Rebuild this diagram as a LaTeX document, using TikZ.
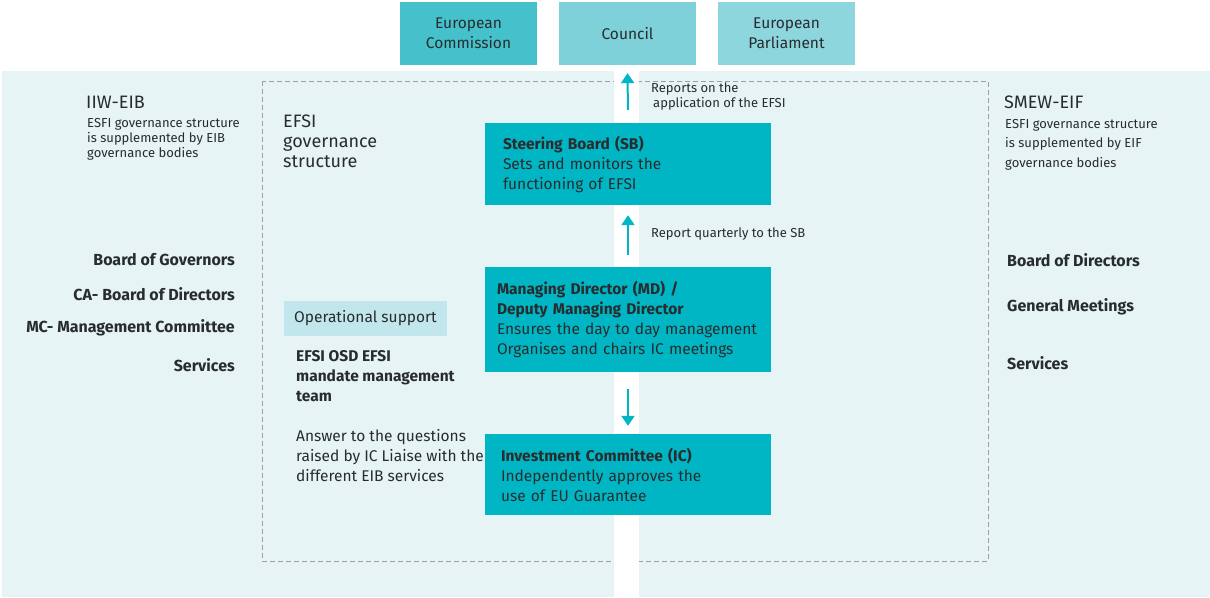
\documentclass[tikz,border=0pt]{standalone}
\usepackage{fontspec}
\setmainfont{Fira Sans}
\usetikzlibrary{arrows.meta}
\definecolor{efsiteal}{RGB}{0,182,196}
\definecolor{commission}{RGB}{69,193,204}
\definecolor{council}{RGB}{126,208,217}
\definecolor{parliament}{RGB}{141,214,222}
\definecolor{opsupport}{RGB}{193,230,235}
\definecolor{panelbg}{RGB}{230,244,246}
\definecolor{inktext}{RGB}{40,44,46}
\newcommand\bodysize{\fontsize{15.5}{20}\selectfont}
\newcommand\listsize{\fontsize{16}{20}\selectfont\bfseries}
\newcommand\notesize{\fontsize{13}{15}\selectfont}
\newcommand\headsize{\fontsize{18}{20}\selectfont}

\begin{document}
\begin{tikzpicture}[x=1pt, y=-1pt, text=inktext,
    topbox/.style={minimum width=137pt, minimum height=63pt, align=center, inner sep=0pt, font=\bodysize},
    box/.style={fill=efsiteal, align=left, inner ysep=0pt, font=\bodysize},
    plain/.style={inner sep=0pt, align=left, font=\bodysize},
    note/.style={inner sep=0pt, align=left, font=\notesize},
    head/.style={inner sep=0pt, align=left, font=\headsize},
    listitem/.style={inner sep=0pt, font=\listsize},
    flow/.style={draw=efsiteal, line width=2pt, -{Triangle[width=13pt,length=10pt]}}]
    \useasboundingbox (0,0) rectangle (1210,597);

    % Panels
    \fill[panelbg] (2,71) rectangle (614,597);
    \fill[panelbg] (639,71) rectangle (1210,597);
    \draw[black!38, dash pattern=on 5pt off 3pt] (262,81) rectangle (988,561);
    \fill[white] (614,71) rectangle (639,597);

    % Boxes
    \node[topbox, fill=commission] (ec) at (468.5,33.5) {European\\Commission};
    \node[topbox, fill=council] (council) at (627.5,33.5) {Council};
    \node[topbox, fill=parliament] (ep) at (786.5,33.5) {European\\Parliament};

    \node[box, minimum height=82pt, inner xsep=18pt, text width=250pt] (sb) at (628,164)
        {\textbf{Steering Board (SB)}\\Sets and monitors the\\functioning of EFSI};
    \node[box, minimum height=105pt, inner xsep=12pt, text width=262pt] (md) at (628,319.5)
        {\textbf{Managing Director (MD) /}\\\textbf{Deputy Managing Director}\\Ensures the day to day management\\Organises and chairs IC meetings};
    \node[box, minimum height=81pt, inner xsep=16pt, text width=254pt] (ic) at (628,474.5)
        {\textbf{Investment Committee (IC)}\\Independently approves the\\use of EU Guarantee};
    \node[box, fill=opsupport, minimum height=35pt, minimum width=163pt, inner xsep=0pt] (ops) at (365.5,318.5)
        {Operational support};

    % Arrows
    \draw[flow, shorten <=13pt, shorten >=8pt] (sb.north) -- (council.south);
    \draw[flow, shorten <=12pt, shorten >=10pt] (md.north) -- (sb.south);
    \draw[flow, shorten <=17pt, shorten >=8pt] (md.south) -- (ic.north);
    \node[note, anchor=north west] (reportlbl) at (651,83) {Reports on the\\\hspace{2pt}application of the EFSI};
    \node[note, anchor=west] (quarterlbl) at (651,234) {Report quarterly to the SB};

    % Labels
    \node[head, anchor=north west] (efsi) at (283,115) {EFSI\\governance\\structure};
    \node[plain, anchor=north west] (osd) at (296,350) {\textbf{EFSI OSD EFSI}\\\textbf{mandate management}\\\textbf{team}};
    \node[plain, anchor=north west] (answer) at (296,429) {Answer to the questions\\raised by IC Liaise with the\\different EIB services};

    % EIB side
    \node[head, anchor=west] (eib) at (86,102) {IIW-EIB};
    \node[note, anchor=north west] (eibnote) at (87,118) {ESFI governance structure\\is supplemented by EIB\\governance bodies};
    \node[listitem, anchor=east] (bog) at (235,260) {Board of Governors};
    \node[listitem, anchor=east] (ca) at (235,294) {CA- Board of Directors};
    \node[listitem, anchor=east] (mc) at (235,328) {MC- Management Committee};
    \node[listitem, anchor=east] (eibserv) at (235,365) {Services};

    % EIF side
    \node[head, anchor=west] (eif) at (1004,102) {SMEW-EIF};
    \node[note, anchor=north west, font=\fontsize{13}{19.5}\selectfont] (eifnote) at (1005,119) {ESFI governance structure\\is supplemented by EIF\\governance bodies};
    \node[listitem, anchor=west] (bod) at (1007,260) {Board of Directors};
    \node[listitem, anchor=west] (gm) at (1007,307) {General Meetings};
    \node[listitem, anchor=west] (eifserv) at (1007,363) {Services};
\end{tikzpicture}
\end{document}
